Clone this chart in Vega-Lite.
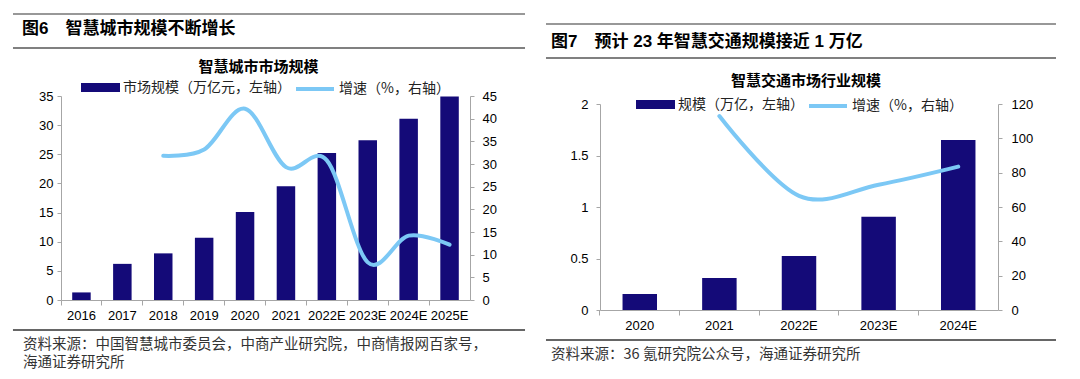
{
  "$schema": "https://vega.github.io/schema/vega-lite/v6.json",
  "background": "white",
  "padding": {"left": 11, "top": 0, "right": 0, "bottom": 0},
  "config": {
    "view": {"stroke": null},
    "font": "Liberation Sans",
    "axis": {"domainColor": "#A6A6A6", "tickColor": "#A6A6A6", "labelColor": "#000000", "labelFont": "Liberation Sans", "labelFontSize": 13, "grid": false, "title": null, "tickSize": 4, "domainWidth": 1, "tickWidth": 1},
    "legend": {
      "orient": "top", "direction": "horizontal", "title": null,
      "labelFont": "Noto Sans CJK SC", "labelFontSize": 14, "labelColor": "#222222", "labelLimit": 400,
      "labelOffset": 3,
      "layout": {"top": {"anchor": "middle", "direction": "horizontal", "margin": 3}}
    },
    "title": {"font": "Noto Sans CJK SC", "fontWeight": "bold", "fontSize": 15, "color": "#000000", "anchor": "middle"}
  },
  "datasets": {
    "city": [
      {"year": "2016", "size": 1.3, "growth": null},
      {"year": "2017", "size": 6.2, "growth": null},
      {"year": "2018", "size": 8.0, "growth": 31.8},
      {"year": "2019", "size": 10.7, "growth": 33.2},
      {"year": "2020", "size": 15.1, "growth": 42.2},
      {"year": "2021", "size": 19.5, "growth": 29.3},
      {"year": "2022E", "size": 25.2, "growth": 30.8},
      {"year": "2023E", "size": 27.4, "growth": 8.3},
      {"year": "2024E", "size": 31.1, "growth": 14.2},
      {"year": "2025E", "size": 34.9, "growth": 12.2}
    ],
    "traffic": [
      {"year": "2020", "size": 0.155, "growth": null},
      {"year": "2021", "size": 0.31, "growth": 113},
      {"year": "2022E", "size": 0.525, "growth": 66.5},
      {"year": "2023E", "size": 0.905, "growth": 73},
      {"year": "2024E", "size": 1.65, "growth": 83.5}
    ],
    "headL": [{"label": "图6　智慧城市规模不断增长"}],
    "headR": [{"label": "图7　预计 23 年智慧交通规模接近 1 万亿"}],
    "footL": [
      {"line": 1, "label": "资料来源：中国智慧城市委员会，中商产业研究院，中商情报网百家号，"},
      {"line": 2.2, "label": "海通证券研究所"}
    ],
    "footR": [
      {"line": 1, "label": "资料来源：36 氪研究院公众号，海通证券研究所"}
    ]
  },
  "hconcat": [
    {
      "vconcat": [
        {
          "width": 409, "height": 53,
          "data": {"name": "headL"},
          "layer": [
            {"mark": {"type": "rule", "color": "#333333", "strokeWidth": 1.2},
             "encoding": {"x": {"datum": -0.1174, "type": "quantitative", "scale": {"domain": [0, 1], "nice": false, "zero": false}, "axis": null}, "x2": {"datum": 1.1345},
                          "y": {"datum": 1, "type": "quantitative", "scale": {"domain": [0, 1], "range": [48, 14]}, "axis": null}}},
            {"mark": {"type": "rule", "color": "#808080", "strokeWidth": 2},
             "encoding": {"x": {"datum": -0.1174, "type": "quantitative"}, "x2": {"datum": 1.1345}, "y": {"datum": 0, "type": "quantitative"}}},
            {"mark": {"type": "text", "align": "left", "baseline": "middle", "font": "Liberation Sans, Noto Sans CJK SC", "fontWeight": "bold", "fontSize": 17, "color": "#000000"},
             "encoding": {"x": {"datum": -0.0954, "type": "quantitative"}, "y": {"datum": 0.56, "type": "quantitative"}, "text": {"field": "label"}}}
          ]
        },
        {
          "width": 409, "height": 204,
          "title": {"text": "智慧城市市场规模", "offset": -7, "dx": -7},
          "data": {"name": "city"},
          "encoding": {
            "x": {"field": "year", "type": "nominal", "sort": null,
                  "scale": {"paddingInner": 0.548, "paddingOuter": 0.274},
                  "axis": {"labelAngle": 0, "tickSize": 5, "labelPadding": 4, "bandPosition": -0.606}}
          },
          "layer": [
            {"mark": {"type": "bar"},
             "encoding": {
               "y": {"field": "size", "type": "quantitative", "scale": {"domain": [0, 35], "nice": false},
                     "axis": {"orient": "left", "values": [0, 5, 10, 15, 20, 25, 30, 35], "labelPadding": 4, "minExtent": 48}},
               "color": {"datum": "市场规模（万亿元，左轴）", "type": "nominal",
                         "scale": {"range": ["#140A78"]},
                         "legend": {"offset": -1, "symbolType": "M-1,-0.23H1V0.23H-1Z", "symbolSize": 1521, "symbolStrokeWidth": 0}}
             }},
            {"mark": {"type": "line", "interpolate": "cardinal", "strokeWidth": 4, "strokeCap": "round"},
             "encoding": {
               "y": {"field": "growth", "type": "quantitative", "scale": {"domain": [0, 45], "nice": false},
                     "axis": {"orient": "right", "values": [0, 5, 10, 15, 20, 25, 30, 35, 40, 45], "labelPadding": 8, "minExtent": 55}},
               "stroke": {"datum": "增速（%，右轴）", "type": "nominal",
                          "scale": {"range": ["#7CC8F5"]},
                          "legend": {"offset": -1, "symbolType": "stroke", "symbolSize": 1444, "symbolStrokeWidth": 4}}
             }}
          ],
          "resolve": {"scale": {"y": "independent"}}
        },
        {
          "width": 409, "height": 45,
          "data": {"name": "footL"},
          "layer": [
            {"mark": {"type": "rule", "color": "#666666", "strokeWidth": 2},
             "encoding": {"x": {"datum": -0.1174, "type": "quantitative", "scale": {"domain": [0, 1], "nice": false, "zero": false}, "axis": null}, "x2": {"datum": 1.1345},
                          "y": {"datum": 0, "type": "quantitative", "scale": {"domain": [0, 3], "range": [0, 45]}, "axis": null}}},
            {"mark": {"type": "text", "align": "left", "baseline": "middle", "font": "Noto Sans CJK SC", "fontSize": 14.5, "color": "#333333"},
             "encoding": {"x": {"datum": -0.093, "type": "quantitative"}, "y": {"field": "line", "type": "quantitative"}, "text": {"field": "label"}}}
          ]
        }
      ],
      "spacing": 7,
      "resolve": {"scale": {"color": "independent", "stroke": "independent"}, "legend": {"color": "independent", "stroke": "independent"}}
    },
    {
      "vconcat": [
        {
          "width": 398, "height": 67,
          "data": {"name": "headR"},
          "layer": [
            {"mark": {"type": "rule", "color": "#333333", "strokeWidth": 1.2},
             "encoding": {"x": {"datum": -0.1357, "type": "quantitative", "scale": {"domain": [0, 1], "nice": false, "zero": false}, "axis": null}, "x2": {"datum": 1.1457},
                          "y": {"datum": 1, "type": "quantitative", "scale": {"domain": [0, 1], "range": [58, 24]}, "axis": null}}},
            {"mark": {"type": "rule", "color": "#808080", "strokeWidth": 2},
             "encoding": {"x": {"datum": -0.1357, "type": "quantitative"}, "x2": {"datum": 1.1457}, "y": {"datum": 0, "type": "quantitative"}}},
            {"mark": {"type": "text", "align": "left", "baseline": "middle", "font": "Liberation Sans, Noto Sans CJK SC", "fontWeight": "bold", "fontSize": 17, "color": "#000000"},
             "encoding": {"x": {"datum": -0.123, "type": "quantitative"}, "y": {"datum": 0.47, "type": "quantitative"}, "text": {"field": "label"}}}
          ]
        },
        {
          "width": 398, "height": 206,
          "title": {"text": "智慧交通市场行业规模", "offset": -4, "dx": 7},
          "data": {"name": "traffic"},
          "encoding": {
            "x": {"field": "year", "type": "nominal", "sort": null,
                  "scale": {"paddingInner": 0.567, "paddingOuter": 0.283},
                  "axis": {"labelAngle": 0, "tickSize": 5, "labelPadding": 4, "bandPosition": -0.654}}
          },
          "layer": [
            {"mark": {"type": "bar"},
             "encoding": {
               "y": {"field": "size", "type": "quantitative", "scale": {"domain": [0, 2], "nice": false},
                     "axis": {"orient": "left", "values": [0, 0.5, 1, 1.5, 2], "format": "~g", "labelPadding": 8, "minExtent": 54}},
               "color": {"datum": "规模（万亿，左轴）", "type": "nominal",
                         "scale": {"range": ["#140A78"]},
                         "legend": {"offset": -10, "symbolType": "M-1,-0.23H1V0.23H-1Z", "symbolSize": 1521, "symbolStrokeWidth": 0}}
             }},
            {"mark": {"type": "line", "interpolate": "cardinal", "strokeWidth": 4, "strokeCap": "round"},
             "encoding": {
               "y": {"field": "growth", "type": "quantitative", "scale": {"domain": [0, 120], "nice": false},
                     "axis": {"orient": "right", "values": [0, 20, 40, 60, 80, 100, 120], "labelPadding": 9, "minExtent": 58}},
               "stroke": {"datum": "增速（%，右轴）", "type": "nominal",
                          "scale": {"range": ["#7CC8F5"]},
                          "legend": {"offset": -10, "symbolType": "stroke", "symbolSize": 1444, "symbolStrokeWidth": 4}}
             }}
          ],
          "resolve": {"scale": {"y": "independent"}}
        },
        {
          "width": 398, "height": 38,
          "data": {"name": "footR"},
          "layer": [
            {"mark": {"type": "rule", "color": "#666666", "strokeWidth": 2},
             "encoding": {"x": {"datum": -0.1357, "type": "quantitative", "scale": {"domain": [0, 1], "nice": false, "zero": false}, "axis": null}, "x2": {"datum": 1.1457},
                          "y": {"datum": 0, "type": "quantitative", "scale": {"domain": [0, 3], "range": [0, 45]}, "axis": null}}},
            {"mark": {"type": "text", "align": "left", "baseline": "middle", "font": "Noto Sans CJK SC", "fontSize": 14.5, "color": "#333333"},
             "encoding": {"x": {"datum": -0.123, "type": "quantitative"}, "y": {"field": "line", "type": "quantitative"}, "text": {"field": "label"}}}
          ]
        }
      ],
      "spacing": 7,
      "resolve": {"scale": {"color": "independent", "stroke": "independent"}, "legend": {"color": "independent", "stroke": "independent"}}
    }
  ],
  "spacing": 17,
  "resolve": {"scale": {"color": "independent", "stroke": "independent"}, "legend": {"color": "independent", "stroke": "independent"}}
}
